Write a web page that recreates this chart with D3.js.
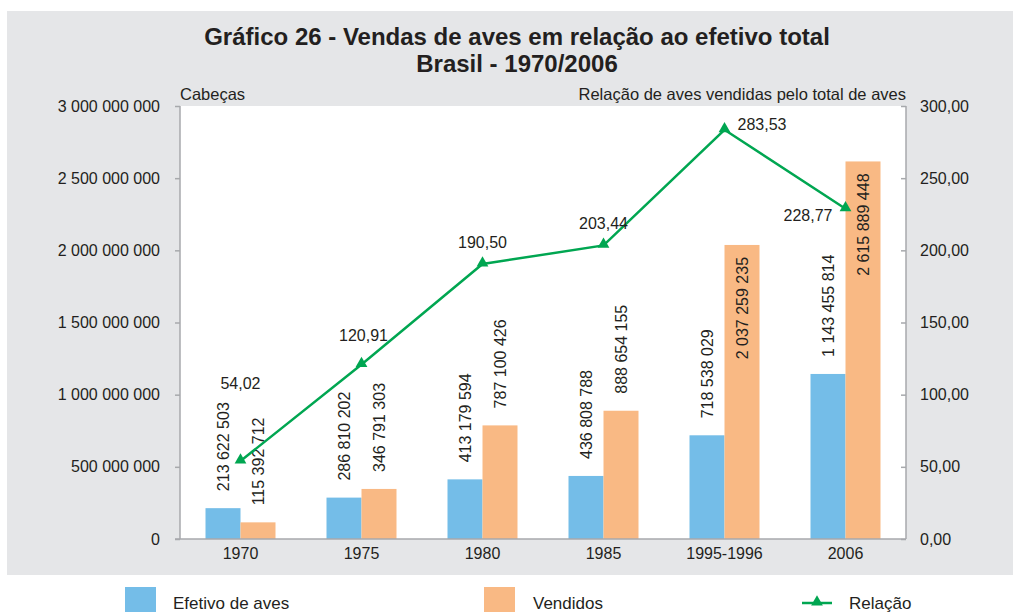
<!DOCTYPE html>
<html><head><meta charset="utf-8">
<script src="https://cdn.jsdelivr.net/npm/d3@7"></script>
<style>
body{margin:0;background:#fff;}
svg{display:block;font-family:"Liberation Sans",Arial,sans-serif;}
</style></head>
<body><svg id="c" width="1013" height="612"></svg>
<script>
const categories = ["1970","1975","1980","1985","1995-1996","2006"];
const efetivo = [213622503, 286810202, 413179594, 436808788, 718538029, 1143455814];
const vendidos = [115392712, 346791303, 787100426, 888654155, 2037259235, 2615889448];
const relacao = [54.02, 120.91, 190.50, 203.44, 283.53, 228.77];
const leftTicks = [0, 500000000, 1000000000, 1500000000, 2000000000, 2500000000, 3000000000];
const rightTicks = [0, 50, 100, 150, 200, 250, 300];

const svg = d3.select("#c");
const W = 1013, H = 612;
const m = {l:180, r:906, t:106, b:539};
const textCol = "#231f20";
const blue = "#74bde8", orange = "#f9b984", green = "#00a651", axisCol = "#a7a9ac";
const FF = "Liberation Sans, Arial, sans-serif";

// background panel
svg.append("rect").attr("x",7).attr("y",11).attr("width",W-7).attr("height",564).attr("fill","#e5e6e8");
svg.append("rect").attr("x",m.l).attr("y",m.t).attr("width",m.r-m.l).attr("height",m.b-m.t).attr("fill","#fff");

const x = d3.scaleBand().domain(categories).range([m.l,m.r]).paddingInner(0).paddingOuter(0);
const yL = d3.scaleLinear().domain([0,3000000000]).range([m.b,m.t]);
const yR = d3.scaleLinear().domain([0,300]).range([m.b,m.t]);
const bw = 35;

const fmtInt = v => d3.format(",")(v).replace(/,/g," ");
const fmtDec = v => d3.format(".2f")(v).replace(".",",");

// title
svg.append("text").attr("x",517).attr("y",45).attr("text-anchor","middle")
  .attr("font-size",24).attr("font-weight","bold").attr("fill",textCol)
  .text("Gráfico 26 - Vendas de aves em relação ao efetivo total");
svg.append("text").attr("x",517).attr("y",72).attr("text-anchor","middle")
  .attr("font-size",24).attr("font-weight","bold").attr("fill",textCol)
  .text("Brasil - 1970/2006");
svg.append("text").attr("x",180).attr("y",100).attr("font-size",16.5).attr("fill",textCol).text("Cabeças");
svg.append("text").attr("x",906).attr("y",100).attr("text-anchor","end").attr("font-size",16.5).attr("fill",textCol)
  .text("Relação de aves vendidas pelo total de aves");

// bars
const g = svg.append("g");
categories.forEach((c,i)=>{
  const cx = x(c) + x.bandwidth()/2;
  g.append("rect").attr("x",cx-bw).attr("y",yL(efetivo[i])).attr("width",bw)
    .attr("height",yL(0)-yL(efetivo[i])).attr("fill",blue);
  g.append("rect").attr("x",cx).attr("y",yL(vendidos[i])).attr("width",bw)
    .attr("height",yL(0)-yL(vendidos[i])).attr("fill",orange);
});

// axes
const axL = d3.axisLeft(yL).tickValues(leftTicks).tickSize(5).tickFormat(fmtInt);
const gl = svg.append("g").attr("transform",`translate(${m.l},0)`).call(axL);
const axR = d3.axisLeft(yR).tickValues(rightTicks).tickSize(5).tickFormat(fmtDec);
const gr = svg.append("g").attr("transform",`translate(${m.r},0)`).call(axR);
const axB = d3.axisBottom(x).tickSize(0).tickPadding(0);
const gb = svg.append("g").attr("transform",`translate(0,${m.b})`).call(axB);
[gl,gr,gb].forEach(a=>a.attr("font-size",16).attr("font-family",FF));
gl.selectAll("text").attr("x",-20).attr("fill",textCol);
gr.selectAll("text").attr("x",14).attr("text-anchor","start").attr("fill",textCol);
gb.selectAll("text").attr("dy",0).attr("y",20).attr("fill",textCol);
[gl,gr,gb].forEach(a=>{a.selectAll("path.domain").attr("stroke",axisCol).attr("stroke-width",1.5);a.selectAll("line").attr("stroke",axisCol).attr("stroke-width",1.5);});
gb.select("path.domain").attr("d",`M${m.l-5},0H${m.r}`);
gl.select("path.domain").attr("d",`M0,${m.b}V${m.t}`);
gr.select("path.domain").attr("d",`M0,${m.b}V${m.t}`);

// bar value labels (rotated)
function barLabel(cx, v){
  const top = yL(v);
  const inside = v > 2000000000;
  const yPos = inside ? top + 12 : top - 17;
  svg.append("text").attr("transform",`translate(${cx+6},${yPos}) rotate(-90)`)
    .attr("text-anchor", inside ? "end" : "start")
    .attr("font-size",16).attr("fill",textCol).text(fmtInt(v));
}
categories.forEach((c,i)=>{
  const cx = x(c) + x.bandwidth()/2;
  barLabel(cx - bw/2, efetivo[i]);
  barLabel(cx + bw/2, vendidos[i]);
});

// line
const pts = categories.map((c,i)=>[x(c)+x.bandwidth()/2, yR(relacao[i])]);
svg.append("path").attr("d",d3.line()(pts)).attr("fill","none").attr("stroke",green).attr("stroke-width",2.5);
const tri = d3.symbol().type(d3.symbolTriangle).size(60);
pts.forEach(p=>svg.append("path").attr("d",tri()).attr("transform",`translate(${p[0]},${p[1]-1})`).attr("fill",green));

// line value labels (offsets relative to points)
const lblOff = [[0,-72,"middle"],[2,-23,"middle"],[0,-16,"middle"],[0,-16,"middle"],[13,0,"start"],[-13,12,"end"]];
pts.forEach((p,i)=>{
  svg.append("text").attr("x",p[0]+lblOff[i][0]).attr("y",p[1]+lblOff[i][1])
    .attr("text-anchor",lblOff[i][2]).attr("font-size",16).attr("fill",textCol).text(fmtDec(relacao[i]));
});

// legend
const ly = 600;
svg.append("rect").attr("x",125).attr("y",587).attr("width",31).attr("height",25).attr("fill",blue);
svg.append("text").attr("x",173).attr("y",ly+9).attr("font-size",17).attr("fill",textCol).text("Efetivo de aves");
svg.append("rect").attr("x",484).attr("y",587).attr("width",31).attr("height",25).attr("fill",orange);
svg.append("text").attr("x",533).attr("y",ly+9).attr("font-size",17).attr("fill",textCol).text("Vendidos");
svg.append("line").attr("x1",802).attr("x2",832).attr("y1",ly+3).attr("y2",ly+3).attr("stroke",green).attr("stroke-width",2.5);
svg.append("path").attr("d",tri()).attr("transform",`translate(817,${ly+2})`).attr("fill",green);
svg.append("text").attr("x",849).attr("y",ly+9).attr("font-size",17).attr("fill",textCol).text("Relação");
</script></body></html>
